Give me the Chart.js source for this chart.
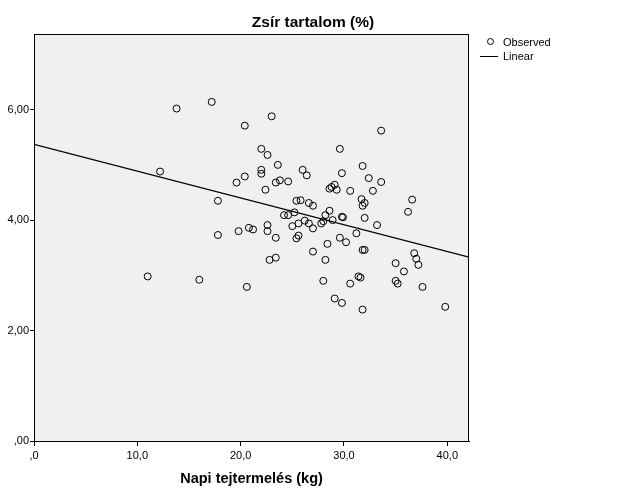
<!DOCTYPE html>
<html>
<head>
<meta charset="utf-8">
<script src="https://cdn.jsdelivr.net/npm/chart.js@4"></script>
<style>body{margin:0;background:#fff}</style>
</head>
<body>
<canvas id="chart" width="626" height="501"></canvas>
<script>
// Napi tejtermelés (kg) vs Zsír tartalom (%)
var obsX = [13.8,17.2,23.0,20.4,33.6,22.0,29.6,22.6,12.2,23.6,31.8,26.0,22.0,22.0,26.4,20.4,29.8,32.4,19.6,23.4,
            23.8,24.6,33.6,22.4,28.6,28.8,29.1,29.3,30.6,32.8,17.8,25.4,25.8,26.6,27.0,31.7,32.0,31.8,36.6,36.2,
            25.2,24.2,24.6,28.6,28.2,29.8,29.9,32.0,28.9,26.2,26.6,27.8,28.0,25.6,22.6,25.0,33.2,27.0,31.2,19.8,
            20.8,21.2,22.6,17.8,23.4,25.4,25.6,29.6,30.2,28.4,27.0,31.8,32.0,36.8,37.0,37.2,35.0,35.8,22.8,23.4,
            28.2,11.0,16.0,20.6,28.0,31.4,31.6,30.6,35.0,35.2,37.6,29.1,29.8,31.8,39.8];
var obsY = [6.02,6.14,5.88,5.71,5.62,5.29,5.29,5.18,4.88,5.00,4.98,4.91,4.91,4.84,4.81,4.79,4.85,4.76,4.68,4.68,
            4.72,4.70,4.69,4.55,4.57,4.60,4.64,4.55,4.53,4.53,4.35,4.35,4.36,4.31,4.26,4.38,4.31,4.26,4.37,4.15,
            4.14,4.09,4.09,4.17,4.09,4.06,4.05,4.04,4.00,3.99,3.94,3.94,3.98,3.94,3.91,3.89,3.91,3.85,3.76,3.80,
            3.86,3.83,3.80,3.73,3.68,3.67,3.72,3.68,3.60,3.57,3.43,3.46,3.46,3.40,3.30,3.19,3.22,3.07,3.28,3.32,
            3.28,2.98,2.92,2.79,2.90,2.98,2.96,2.85,2.90,2.85,2.79,2.58,2.50,2.38,2.43];

// fitted line
var linearX = [0, 42.1];
var linearY = [5.37, 3.33];

var xTicks = [0, 10, 20, 30, 40];
var xTickLabels = [',0', '10,0', '20,0', '30,0', '40,0'];
var yTicks = [0, 2, 4, 6];
var yTickLabels = [',00', '2,00', '4,00', '6,00'];

var chartTitle = 'Zsír tartalom (%)';
var xTitle = 'Napi tejtermelés (kg)';
var legendLabels = ['Observed', 'Linear'];

var FONT = 'Arial, "Liberation Sans", sans-serif';

var observedPoints = obsX.map(function(x, i) { return {x: x, y: obsY[i]}; });
var linearPoints = linearX.map(function(x, i) { return {x: x, y: linearY[i]}; });

var spssLook = {
    id: 'spssLook',
    beforeDatasetsDraw: function(chart) {
        var a = chart.chartArea, ctx = chart.ctx;
        ctx.save();
        ctx.fillStyle = '#f0f0f0';
        ctx.fillRect(a.left, a.top, a.right - a.left, a.bottom - a.top);
        ctx.restore();
    },
    afterDraw: function(chart) {
        var a = chart.chartArea, ctx = chart.ctx;
        ctx.save();
        ctx.strokeStyle = '#000';
        ctx.lineWidth = 1;
        ctx.strokeRect(a.left + 0.5, a.top + 0.5, a.right - a.left - 1, a.bottom - a.top);

        // title, centred on the whole canvas
        ctx.fillStyle = '#000';
        ctx.font = 'bold 15.5px ' + FONT;
        ctx.textAlign = 'center';
        ctx.textBaseline = 'middle';
        ctx.fillText(chartTitle, chart.width / 2, 22.5);

        // legend
        ctx.font = '11px ' + FONT;
        ctx.textAlign = 'left';
        ctx.beginPath();
        ctx.arc(490.5, 41.5, 3, 0, Math.PI * 2);
        ctx.stroke();
        ctx.fillText(legendLabels[0], 503, 43);
        ctx.beginPath();
        ctx.moveTo(480, 56.5);
        ctx.lineTo(498, 56.5);
        ctx.stroke();
        ctx.fillText(legendLabels[1], 503, 57);
        ctx.restore();
    }
};

var chart = new Chart(document.getElementById('chart'), {
    type: 'scatter',
    data: {
        datasets: [
            {
                label: legendLabels[0],
                data: observedPoints,
                pointStyle: 'circle',
                pointRadius: 3.5,
                pointHoverRadius: 3.5,
                backgroundColor: 'rgba(0,0,0,0)',
                borderColor: '#000',
                borderWidth: 1
            },
            {
                label: legendLabels[1],
                data: linearPoints,
                showLine: true,
                pointRadius: 0,
                borderColor: '#000',
                borderWidth: 1.3
            }
        ]
    },
    options: {
        responsive: false,
        animation: false,
        devicePixelRatio: 1,
        layout: { padding: { top: 34, right: 157, left: 0, bottom: 0 } },
        plugins: {
            legend: { display: false },
            tooltip: { enabled: false }
        },
        scales: {
            x: {
                type: 'linear',
                min: 0,
                max: 42.1,
                afterFit: function(scale) { scale.height = 60; },
                afterBuildTicks: function(scale) {
                    scale.ticks = xTicks.map(function(v) { return {value: v}; });
                },
                ticks: {
                    color: '#000',
                    font: { family: FONT, size: 11 },
                    padding: 3,
                    maxRotation: 0,
                    callback: function(value, index) { return xTickLabels[index]; }
                },
                grid: { drawOnChartArea: false, drawTicks: true, tickLength: 5, tickColor: '#000' },
                border: { display: true, color: '#000' },
                title: {
                    display: true,
                    text: xTitle,
                    color: '#000',
                    font: { family: FONT, size: 14.5, weight: 'bold' },
                    padding: { top: 0, bottom: 13 }
                }
            },
            y: {
                type: 'linear',
                min: 0,
                max: 7.37,
                afterFit: function(scale) { scale.width = 34; },
                afterBuildTicks: function(scale) {
                    scale.ticks = yTicks.map(function(v) { return {value: v}; });
                },
                ticks: {
                    color: '#000',
                    font: { family: FONT, size: 11 },
                    padding: 1,
                    callback: function(value, index) { return yTickLabels[index]; }
                },
                grid: { drawOnChartArea: false, drawTicks: true, tickLength: 4, tickColor: '#000' },
                border: { display: true, color: '#000' }
            }
        }
    },
    plugins: [spssLook]
});
</script>
</body>
</html>
